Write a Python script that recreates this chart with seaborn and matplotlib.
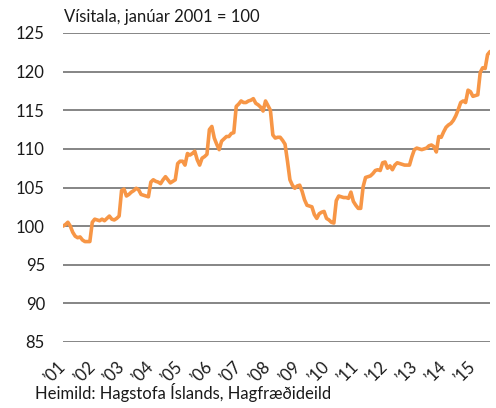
import numpy as np
import pandas as pd
import matplotlib
matplotlib.use("Agg")
import matplotlib.pyplot as plt
import seaborn as sns

# Monthly index, January 2001 = 100 (Jan 2001 .. Aug 2015)
values = [
    # 2001
    100.0, 100.2, 100.5, 100.0, 99.2, 98.7, 98.5, 98.6, 98.2, 98.0, 98.0, 98.0,
    # 2002
    100.5, 100.9, 100.8, 100.7, 100.9, 100.7, 101.0, 101.3, 100.9, 100.8, 101.0, 101.3,
    # 2003
    104.6, 104.8, 103.9, 104.1, 104.4, 104.6, 104.9, 104.7, 104.1, 104.0, 103.9, 103.8,
    # 2004
    105.7, 106.0, 105.8, 105.7, 105.5, 106.0, 106.4, 106.0, 105.6, 105.8, 106.0, 108.1,
    # 2005
    108.4, 108.4, 107.9, 109.4, 109.2, 109.4, 109.7, 108.6, 107.9, 108.8, 109.0, 109.3,
    # 2006
    112.5, 112.9, 111.4, 110.6, 109.9, 111.0, 111.3, 111.6, 111.6, 112.0, 112.1, 115.5,
    # 2007
    115.8, 116.2, 116.0, 116.0, 116.2, 116.3, 116.5, 115.9, 115.7, 115.4, 114.9, 116.2,
    # 2008
    115.6, 115.0, 111.8, 111.4, 111.5, 111.5, 111.1, 110.6, 108.4, 106.0, 105.3, 104.9,
    # 2009
    105.2, 105.3, 104.5, 103.4, 102.7, 102.6, 102.5, 101.5, 101.0, 101.6, 101.8, 101.9,
    # 2010
    101.0, 100.8, 100.5, 100.4, 103.3, 103.9, 103.8, 103.7, 103.7, 103.6, 104.4, 103.2,
    # 2011
    102.7, 102.3, 102.3, 105.1, 106.3, 106.4, 106.5, 106.8, 107.2, 107.3, 107.2, 108.2,
    # 2012
    108.3, 107.5, 107.8, 107.3, 107.9, 108.2, 108.1, 108.0, 107.9, 107.9, 107.9, 109.0,
    # 2013
    109.9, 110.1, 110.0, 109.9, 110.0, 110.1, 110.4, 110.5, 110.3, 109.6, 111.6, 111.5,
    # 2014
    112.2, 112.8, 113.1, 113.3, 113.7, 114.3, 115.1, 116.0, 116.2, 116.0, 117.6, 117.4,
    # 2015
    116.8, 116.9, 117.0, 119.9, 120.5, 120.4, 122.2, 122.6,
]
year_labels = ["\u201901", "\u201902", "\u201903", "\u201904", "\u201905", "\u201906", "\u201907",
               "\u201908", "\u201909", "\u201910", "\u201911", "\u201912", "\u201913", "\u201914", "\u201915"]
y_ticks = [85, 90, 95, 100, 105, 110, 115, 120, 125]
title_text = "Vísitala, janúar 2001 = 100"
source_text = "Heimild: Hagstofa Íslands, Hagfræðideild"

df = pd.DataFrame({"month": np.arange(len(values)), "index": values})

sns.set_theme(style="white")
plt.rcParams["font.family"] = ["Lato", "DejaVu Sans"]

FS = 12
TXT = "#1a1a1a"

fig = plt.figure(figsize=(4.96, 4.08), dpi=100)
ax = fig.add_axes([63 / 496, 1 - 342 / 408, 427 / 496, (342 - 33) / 408])

for yt in y_ticks:
    ax.axhline(yt, color="#858585", lw=1.4, zorder=1)

sns.lineplot(data=df, x="month", y="index", ax=ax, color="#F79646", lw=2.6, zorder=3)

ax.set_xlim(0, len(values) - 1)
ax.set_ylim(85, 125)
ax.set_yticks(y_ticks)
ax.set_yticklabels([str(v) for v in y_ticks], fontsize=FS, color=TXT)
ax.set_xticks(np.arange(len(year_labels)) * 12)
ax.set_xticklabels(year_labels, fontsize=FS, rotation=45, ha="right", va="center",
                   rotation_mode="anchor", color=TXT)
ax.tick_params(axis="y", length=0, pad=13)
ax.tick_params(axis="x", length=0, pad=16)
ax.set_xlabel("")
ax.set_ylabel("")
for s in ax.spines.values():
    s.set_visible(False)
ax.set_facecolor("white")

fig.text(64 / 496, 1 - 17 / 408, title_text, fontsize=FS, ha="left", va="center", color=TXT)
fig.text(35 / 496, 1 - 393 / 408, source_text, fontsize=FS, ha="left", va="center", color=TXT)

fig.savefig("out.png", dpi=100, facecolor="white")
